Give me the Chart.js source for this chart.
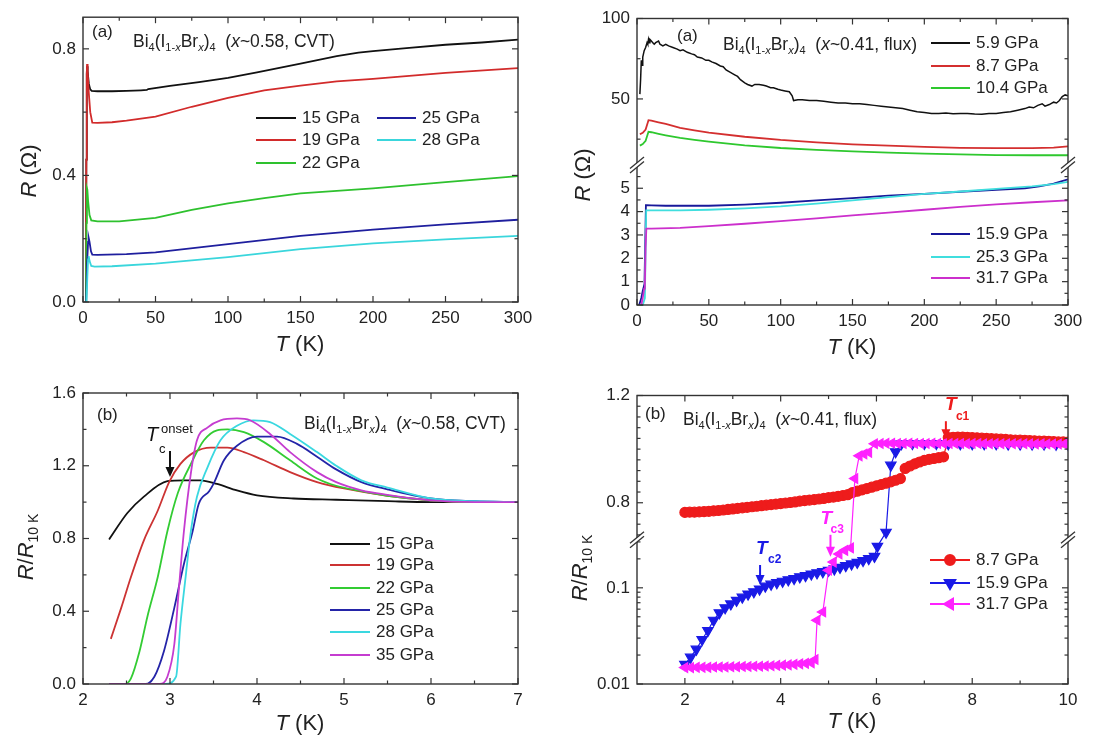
<!DOCTYPE html>
<html>
<head>
<meta charset="utf-8">
<script src="https://cdn.jsdelivr.net/npm/chart.js@4.4.1/dist/chart.umd.min.js"></script>
<style>
  html, body { margin: 0; padding: 0; background: #fff; }
  #fig { position: relative; width: 1108px; height: 744px; }
  canvas { position: absolute; }
</style>
</head>
<body>
<div id="fig">
  <canvas id="tl" width="554" height="372" style="left:0;top:0"></canvas>
  <canvas id="tr" width="554" height="372" style="left:554px;top:0"></canvas>
  <canvas id="bl" width="554" height="372" style="left:0;top:372px"></canvas>
  <canvas id="br" width="554" height="372" style="left:554px;top:372px"></canvas>
</div>
<script>
const FONT = "'Liberation Sans', Arial, sans-serif";
const INK = '#222';

// (a) left: x~0.58, CVT  R(T) 0-300 K
const tlNames = ['15 GPa', '19 GPa', '22 GPa', '25 GPa', '28 GPa'];
const tlT15 = [2.0, 2.3, 2.6, 2.8, 3.2, 4, 5, 6, 10, 20, 30, 40, 44, 45, 60, 80, 100, 120, 150, 175, 190, 200, 225, 250, 275, 300];
const tlR15 = [0, 0.45, 0.72, 0.745, 0.73, 0.69, 0.672, 0.667, 0.666, 0.666, 0.667, 0.669, 0.670, 0.673, 0.683, 0.695, 0.708, 0.726, 0.753, 0.777, 0.788, 0.793, 0.803, 0.813, 0.82, 0.829];
const tlT19 = [2.0, 2.3, 2.6, 2.8, 3.2, 4, 5, 6.4, 10, 20, 30, 50, 75, 100, 125, 150, 175, 200, 250, 300];
const tlR19 = [0, 0.45, 0.72, 0.752, 0.73, 0.66, 0.6, 0.567, 0.566, 0.568, 0.573, 0.586, 0.617, 0.645, 0.669, 0.684, 0.697, 0.705, 0.724, 0.739];
const tlT22 = [2.0, 2.4, 2.7, 3.0, 3.5, 4.5, 5.7, 10, 25, 50, 75, 100, 125, 150, 200, 250, 300];
const tlR22 = [0, 0.25, 0.36, 0.355, 0.32, 0.275, 0.258, 0.255, 0.255, 0.266, 0.291, 0.312, 0.328, 0.343, 0.359, 0.379, 0.398];
const tlT25 = [2.2, 2.8, 3.5, 3.9, 4.5, 5.5, 6.4, 10, 30, 50, 100, 150, 200, 250, 300];
const tlR25 = [0, 0.12, 0.19, 0.203, 0.19, 0.16, 0.15, 0.149, 0.151, 0.157, 0.183, 0.209, 0.229, 0.245, 0.26];
const tlT28 = [2.4, 3.0, 3.5, 3.9, 4.5, 5.7, 8, 20, 50, 100, 150, 200, 250, 300];
const tlR28 = [0, 0.08, 0.135, 0.145, 0.13, 0.114, 0.112, 0.113, 0.121, 0.142, 0.167, 0.185, 0.198, 0.209];

// (a) right: x~0.41, flux  R(T) with broken axis
const trNames = ['5.9 GPa', '8.7 GPa', '10.4 GPa', '15.9 GPa', '25.3 GPa', '31.7 GPa'];
const trT59 = [2, 2.5, 3, 3.5, 4, 5, 6, 7, 7.5, 8, 8.5, 9, 10, 11, 12, 13, 15, 16, 18, 20,
  22, 25, 28, 30, 32, 35, 38, 40, 42, 45, 48, 50, 52, 55, 58, 60, 62, 65, 68, 70,
  72, 75, 77, 80, 82, 85, 88, 90, 93, 95, 98, 100, 103, 106, 108, 109, 112, 115, 120, 125,
  130, 135, 140, 145, 150, 155, 160, 165, 170, 175, 180, 185, 190, 195, 200, 205, 210, 215, 220, 225,
  230, 235, 240, 245, 250, 255, 260, 265, 270, 273, 276, 279, 282, 284, 287, 290, 292, 294, 296, 298, 300];
const trR59 = [53, 62, 74, 71, 76, 80, 82, 85, 84, 87, 85, 87, 86, 85, 84, 85, 86, 84, 83, 84,
  83, 82, 81, 80, 80.5, 79, 78, 77.5, 76, 75.5, 74, 74, 73, 72, 70.5, 70, 68, 66.5, 65, 64,
  62, 60, 59, 58, 59, 59, 58.5, 58, 57, 57, 56, 55.5, 55, 54.5, 52, 49, 49.5, 49.5, 49, 49,
  48.5, 48, 47.5, 47.5, 47, 47, 46.5, 46, 45.5, 45, 44.5, 44, 43, 42, 41.5, 41, 41, 41.2, 40.8, 41,
  41, 40.7, 40.5, 41, 41, 41.5, 42, 43, 44, 45, 44.5, 46, 47, 45.5, 46.5, 48, 47.5, 49, 51.5, 52.5, 52];
const trT87 = [2, 4, 6, 8, 10, 15, 20, 30, 40, 50, 75, 100, 125, 150, 175, 200, 225, 250, 275, 290, 300];
const trR87 = [28, 29, 31, 36.8, 36.5, 35.5, 34.5, 32, 30.5, 29, 26.5, 24.5, 23, 21.8, 21, 20.2, 19.6, 19.4, 19.4, 19.8, 20.5];
const trT104 = [2, 4, 6, 8, 10, 15, 20, 30, 40, 50, 75, 100, 125, 150, 175, 200, 225, 250, 275, 300];
const trR104 = [21, 22, 24, 29.6, 29.3, 28.3, 27.4, 25.8, 24.6, 23.5, 21.2, 19.5, 18.3, 17.4, 16.6, 16, 15.5, 15.1, 15, 15];
const trT159 = [1.5, 3, 4, 5.2, 6.2, 6.6, 10, 20, 50, 75, 100, 125, 150, 175, 200, 225, 250, 270, 280, 290, 300];
const trR159 = [0, 0.3, 0.6, 0.9, 4.28, 4.28, 4.27, 4.25, 4.25, 4.3, 4.38, 4.48, 4.58, 4.68, 4.76, 4.85, 4.93, 5.0, 5.08, 5.2, 5.38];
const trT253 = [2, 4, 5.5, 6, 6.4, 10, 30, 50, 75, 100, 125, 150, 175, 200, 225, 250, 275, 290, 300];
const trR253 = [0, 0, 0.3, 2.5, 4.05, 4.05, 4.05, 4.08, 4.14, 4.22, 4.34, 4.48, 4.62, 4.76, 4.86, 4.97, 5.08, 5.18, 5.27];
const trT317 = [3, 4, 5, 5.5, 6, 6.5, 10, 30, 50, 75, 100, 125, 150, 175, 200, 225, 250, 275, 300];
const trR317 = [0, 0.3, 0.7, 0.9, 2.5, 3.27, 3.27, 3.3, 3.38, 3.48, 3.59, 3.71, 3.84, 3.96, 4.08, 4.2, 4.31, 4.4, 4.48];

// (b) left: R/R10K near Tc
const blNames = ['15 GPa', '19 GPa', '22 GPa', '25 GPa', '28 GPa', '35 GPa'];
const blT15 = [2.3, 2.51, 2.7, 2.97, 3.16, 3.35, 3.54, 3.77, 4.0, 4.42, 4.91, 5.5, 6, 6.5, 7];
const blR15 = [0.795, 0.94, 1.03, 1.115, 1.12, 1.12, 1.10, 1.064, 1.037, 1.02, 1.013, 1.005, 1.0, 1.0, 1.0];
const blT19 = [2.32, 2.44, 2.55, 2.70, 2.86, 2.99, 3.12, 3.28, 3.47, 3.66, 3.85, 4.08, 4.38, 4.69, 5.0, 5.5, 6.0, 6.5, 7];
const blR19 = [0.248, 0.42, 0.587, 0.79, 0.954, 1.11, 1.21, 1.275, 1.30, 1.30, 1.275, 1.23, 1.165, 1.11, 1.075, 1.035, 1.01, 1.0, 1.0];
const blT22 = [2.3, 2.48, 2.55, 2.65, 2.74, 2.86, 2.97, 3.09, 3.24, 3.39, 3.54, 3.66, 3.85, 4.08, 4.38, 4.69, 4.91, 5.2, 5.5, 6.0, 6.5, 7];
const blR22 = [0, 0, 0.03, 0.18, 0.37, 0.59, 0.84, 1.05, 1.21, 1.34, 1.395, 1.40, 1.385, 1.33, 1.23, 1.13, 1.09, 1.06, 1.035, 1.01, 1.0, 1.0];
const blT25 = [2.3, 2.72, 2.82, 2.93, 3.05, 3.16, 3.26, 3.33, 3.45, 3.50, 3.62, 3.77, 4.0, 4.23, 4.46, 4.69, 4.91, 5.2, 5.5, 6.0, 6.5, 7];
const blR25 = [0, 0, 0.04, 0.18, 0.42, 0.66, 0.84, 0.99, 1.06, 1.10, 1.23, 1.31, 1.36, 1.36, 1.32, 1.25, 1.18, 1.11, 1.07, 1.02, 1.005, 1.0];
const blT28 = [2.3, 2.95, 3.07, 3.12, 3.18, 3.24, 3.31, 3.43, 3.58, 3.77, 3.96, 4.15, 4.38, 4.69, 4.91, 5.2, 5.5, 6.0, 6.5, 7];
const blR28 = [0, 0, 0.04, 0.33, 0.59, 0.84, 1.03, 1.19, 1.34, 1.42, 1.45, 1.44, 1.375, 1.275, 1.20, 1.12, 1.08, 1.02, 1.005, 1.0];
const blT35 = [2.3, 2.88, 2.97, 3.05, 3.10, 3.16, 3.24, 3.31, 3.43, 3.58, 3.77, 3.92, 4.15, 4.38, 4.69, 4.91, 5.2, 5.5, 6.0, 6.5, 7];
const blR35 = [0, 0, 0.04, 0.22, 0.51, 0.84, 1.16, 1.34, 1.41, 1.45, 1.46, 1.45, 1.375, 1.275, 1.165, 1.11, 1.065, 1.04, 1.01, 1.0, 1.0];

// (b) right: symbols, broken axis (log below, linear above)
const brNames = ['8.7 GPa', '15.9 GPa', '31.7 GPa'];
const brT87 = [2.0, 2.1, 2.2, 2.3, 2.4, 2.5, 2.6, 2.7, 2.8, 2.9, 3.0, 3.1, 3.2, 3.3, 3.4, 3.5, 3.6, 3.7, 3.8, 3.9,
  4.0, 4.1, 4.2, 4.3, 4.4, 4.5, 4.6, 4.7, 4.8, 4.9, 5.0, 5.1, 5.2, 5.3, 5.4, 5.5, 5.6, 5.7, 5.8, 5.9,
  6.0, 6.1, 6.2, 6.3, 6.4, 6.5, 6.6, 6.7, 6.8, 6.9, 7.0, 7.1, 7.2, 7.3, 7.4, 7.5, 7.6, 7.7, 7.8, 7.9,
  8.0, 8.1, 8.2, 8.3, 8.4, 8.5, 8.6, 8.7, 8.8, 8.9, 9.0, 9.1, 9.2, 9.3, 9.4, 9.5, 9.6, 9.7, 9.8, 9.9, 10.0];
const brR87 = [0.764, 0.765, 0.765, 0.766, 0.767, 0.768, 0.770, 0.771, 0.773, 0.775, 0.777, 0.779, 0.781, 0.783, 0.785, 0.787, 0.789, 0.791, 0.793, 0.795,
  0.797, 0.799, 0.801, 0.803, 0.806, 0.808, 0.810, 0.812, 0.814, 0.816, 0.819, 0.821, 0.824, 0.827, 0.830, 0.838, 0.843, 0.848, 0.853, 0.858,
  0.863, 0.868, 0.873, 0.878, 0.884, 0.890, 0.928, 0.937, 0.945, 0.952, 0.958, 0.962, 0.965, 0.968, 0.971, 1.043, 1.044, 1.045, 1.045, 1.044,
  1.043, 1.042, 1.041, 1.040, 1.039, 1.038, 1.037, 1.036, 1.035, 1.034, 1.034, 1.033, 1.032, 1.031, 1.030, 1.030, 1.029, 1.028, 1.027, 1.027, 1.026];
const brT159 = [2.00, 2.12, 2.24, 2.36, 2.48, 2.60, 2.72, 2.84, 2.96, 3.08, 3.20, 3.32, 3.44, 3.56, 3.68, 3.80, 3.92, 4.04, 4.16, 4.28,
  4.40, 4.52, 4.64, 4.76, 4.88, 5.00, 5.12, 5.24, 5.36, 5.48, 5.60, 5.72, 5.84, 5.96, 6.02, 6.20, 6.30, 6.40, 6.52,
  6.75, 7.00, 7.25, 7.50, 7.75, 8.00, 8.25, 8.50, 8.75, 9.00, 9.25, 9.50, 9.75, 10.0];
const brR159 = [0.016, 0.019, 0.023, 0.029, 0.036, 0.046, 0.055, 0.062, 0.068, 0.074, 0.080, 0.086, 0.091, 0.097, 0.104, 0.109, 0.113, 0.117, 0.121, 0.125,
  0.130, 0.134, 0.139, 0.143, 0.147, 0.152, 0.157, 0.163, 0.170, 0.177, 0.184, 0.192, 0.201, 0.212, 0.27, 0.69, 0.94, 0.99, 1.02,
  1.021, 1.021, 1.021, 1.02, 1.02, 1.02, 1.02, 1.02, 1.019, 1.019, 1.019, 1.019, 1.018, 1.018];
const brT317 = [2.00, 2.12, 2.24, 2.36, 2.48, 2.60, 2.72, 2.84, 2.96, 3.08, 3.20, 3.32, 3.44, 3.56, 3.68, 3.80, 3.92, 4.04, 4.16, 4.28,
  4.40, 4.52, 4.64, 4.72, 4.76, 4.88, 5.00, 5.10, 5.22, 5.34, 5.46, 5.55, 5.64, 5.74, 5.84, 5.96,
  6.08, 6.20, 6.32, 6.44, 6.56, 6.68, 6.80, 6.92, 7.04, 7.16, 7.28, 7.40, 7.52, 7.64, 7.76, 7.88, 8.00,
  8.12, 8.24, 8.36, 8.48, 8.60, 8.72, 8.84, 8.96, 9.08, 9.20, 9.32, 9.44, 9.56, 9.68, 9.80, 9.92, 10.0];
const brR317 = [0.0148, 0.0148, 0.0149, 0.0149, 0.0149, 0.0150, 0.0150, 0.0150, 0.0151, 0.0151, 0.0152, 0.0152, 0.0153, 0.0153, 0.0154, 0.0155, 0.0156, 0.0157, 0.0158, 0.0160,
  0.0162, 0.0164, 0.0166, 0.018, 0.046, 0.056, 0.152, 0.185, 0.225, 0.245, 0.26, 0.89, 0.975, 0.982, 0.988, 1.02,
  1.021, 1.022, 1.022, 1.021, 1.021, 1.022, 1.021, 1.021, 1.021, 1.022, 1.021, 1.021, 1.021, 1.021, 1.021, 1.020, 1.021,
  1.021, 1.020, 1.020, 1.021, 1.020, 1.020, 1.020, 1.020, 1.020, 1.020, 1.019, 1.020, 1.019, 1.019, 1.019, 1.019, 1.019];

// tick values
const xTicks300 = [0, 50, 100, 150, 200, 250, 300];
const xMinor300 = [25, 75, 125, 175, 225, 275];
const tlYTicks = [0, 0.4, 0.8];
const tlYMinor = [0.2, 0.6];
const trYTicks = [0, 1, 2, 3, 4, 5, 50, 100];
const trYMinor = [0.5, 1.5, 2.5, 3.5, 4.5, 5.5, 25, 75];
const blXTicks = [2, 3, 4, 5, 6, 7];
const blXMinor = [2.5, 3.5, 4.5, 5.5, 6.5];
const blYTicks = [0, 0.4, 0.8, 1.2, 1.6];
const blYMinor = [0.2, 0.6, 1.0, 1.4];
const brXTicks = [2, 4, 6, 8, 10];
const brXMinor = [3, 5, 7, 9];
const brYTicks = [0.01, 0.1, 0.8, 1.2];
const brYMinor = [0.02, 0.03, 0.04, 0.05, 0.06, 0.07, 0.08, 0.09, 0.2, 0.3,
  0.68, 0.72, 0.76, 0.84, 0.88, 0.92, 0.96, 1.0, 1.04, 1.08, 1.12, 1.16];

// broken y axes: segments as fraction of the plot height
const BREAKS = {
  tr: [{ min: 0, max: 6, f0: 0, f1: 0.489 }, { min: 9, max: 100, f0: 0.489, f1: 1 }],
  br: [{ min: 0.01, max: 0.316, f0: 0, f1: 0.5, log: true }, { min: 0.662, max: 1.2, f0: 0.5, f1: 1 }]
};

class BrokenScale extends Chart.LinearScale {
  segs() { return BREAKS[this.chart.canvas.id]; }
  determineDataLimits() {
    const s = this.segs();
    this.min = s[0].min;
    this.max = s[s.length - 1].max;
  }
  buildTicks() { return []; }
  pick(v) {
    const s = this.segs();
    return v <= (s[0].max + s[1].min) / 2 ? s[0] : s[1];
  }
  getPixelForValue(v) {
    if (v === null || isNaN(v)) return NaN;
    const g = this.pick(v);
    const t = g.log
      ? Math.log10(v / g.min) / Math.log10(g.max / g.min)
      : (v - g.min) / (g.max - g.min);
    const f = g.f0 + t * (g.f1 - g.f0);
    return this.bottom - f * (this.bottom - this.top);
  }
  getValueForPixel(px) {
    const f = (this.bottom - px) / (this.bottom - this.top);
    const g = this.segs().find(s => f <= s.f1) || this.segs()[1];
    const t = (f - g.f0) / (g.f1 - g.f0);
    return g.log ? g.min * Math.pow(g.max / g.min, t) : g.min + t * (g.max - g.min);
  }
}
BrokenScale.id = 'broken';
BrokenScale.defaults = {};
Chart.register(BrokenScale);

function pts(T, R) { return T.map((t, i) => ({ x: t, y: R[i] })); }

function line(ctx, x1, y1, x2, y2) {
  ctx.beginPath(); ctx.moveTo(x1, y1); ctx.lineTo(x2, y2); ctx.stroke();
}

// text with italic / sub / sup pieces: flags i=italic b=bold d=sub u=sup
function rich(ctx, parts, x, y, size, color, align) {
  const font = (f, s) => (f.includes('i') ? 'italic ' : '') + (f.includes('b') ? 'bold ' : '') + s + 'px ' + FONT;
  const items = parts.map(([t, f = '']) => {
    const s = (f.includes('d') || f.includes('u')) ? Math.round(size * 0.64) : size;
    ctx.font = font(f, s);
    return { t, f, s, w: ctx.measureText(t).width };
  });
  const total = items.reduce((n, it) => n + it.w, 0);
  let cx = align === 'center' ? x - total / 2 : x;
  ctx.fillStyle = color;
  ctx.textBaseline = 'middle';
  ctx.textAlign = 'left';
  items.forEach(it => {
    ctx.font = font(it.f, it.s);
    const dy = it.f.includes('d') ? size * 0.33 : it.f.includes('u') ? -size * 0.38 : 0;
    ctx.fillText(it.t, cx, y + dy);
    cx += it.w;
  });
}

function arrow(ctx, x, yTail, yTip, color) {
  ctx.strokeStyle = color; ctx.fillStyle = color; ctx.lineWidth = 2;
  line(ctx, x, yTail, x, yTip - 8);
  ctx.beginPath();
  ctx.moveTo(x - 4.5, yTip - 10); ctx.lineTo(x + 4.5, yTip - 10); ctx.lineTo(x, yTip);
  ctx.closePath(); ctx.fill();
}

function breakMark(ctx, x, y) {
  ctx.fillStyle = '#fff';
  ctx.beginPath();
  ctx.moveTo(x - 6, y + 3); ctx.lineTo(x + 6, y - 7); ctx.lineTo(x + 6, y - 3); ctx.lineTo(x - 6, y + 7);
  ctx.closePath(); ctx.fill();
  ctx.strokeStyle = '#333'; ctx.lineWidth = 1.3;
  line(ctx, x - 7, y + 3.5, x + 7, y - 8);
  line(ctx, x - 7, y + 8, x + 7, y - 3.5);
}

const titleA = (x) => [['Bi'], ['4', 'd'], ['(I'], ['1-', 'd'], ['x', 'di'], ['Br'], ['x', 'di'], [')'], ['4', 'd'], ['  ('], ['x', 'i'], [x]];

const PANELS = {
  tl: {
    area: { left: 83, right: 518, top: 12, bottom: 302 },
    xMin: 0, xMax: 300, yMin: 0, yMax: 0.9,
    xMajor: xTicks300, xMinor: xMinor300, yMajor: tlYTicks, yMinor: tlYMinor,
    fmtY: v => v.toFixed(1),
    tag: { t: '(a)', x: 92, y: 32 },
    title: { parts: titleA('~0.58, CVT)'), x: 133, y: 42 },
    xTitle: { x: 300, y: 345 },
    yTitle: { parts: [['R', 'i'], [' (Ω)']], x: 30, y: 171 },
    legend: [
      { label: tlNames[0], color: '#111', x1: 256, x2: 296, y: 118 },
      { label: tlNames[1], color: '#d22b2b', x1: 256, x2: 296, y: 140 },
      { label: tlNames[2], color: '#2ec12e', x1: 256, x2: 296, y: 163 },
      { label: tlNames[3], color: '#1f1f9e', x1: 377, x2: 416, y: 118 },
      { label: tlNames[4], color: '#3ad6dc', x1: 377, x2: 416, y: 140 }
    ]
  },
  tr: {
    area: { left: 83, right: 514, top: 18.5, bottom: 305 },
    xMin: 0, xMax: 300, broken: true,
    xMajor: xTicks300, xMinor: xMinor300, yMajor: trYTicks, yMinor: trYMinor,
    fmtY: v => String(v),
    tag: { t: '(a)', x: 123, y: 36 },
    title: { parts: titleA('~0.41, flux)'), x: 169, y: 45 },
    xTitle: { x: 298, y: 348 },
    yTitle: { parts: [['R', 'i'], [' (Ω)']], x: 30, y: 175 },
    legend: [
      { label: trNames[0], color: '#111', x1: 377, x2: 416, y: 43 },
      { label: trNames[1], color: '#d42f2f', x1: 377, x2: 416, y: 66 },
      { label: trNames[2], color: '#2ec82e', x1: 377, x2: 416, y: 88 },
      { label: trNames[3], color: '#18189a', x1: 377, x2: 416, y: 234 },
      { label: trNames[4], color: '#40dede', x1: 377, x2: 416, y: 257 },
      { label: trNames[5], color: '#cc2fcc', x1: 377, x2: 416, y: 278 }
    ]
  },
  bl: {
    area: { left: 83, right: 518, top: 21, bottom: 312 },
    xMin: 2, xMax: 7, yMin: 0, yMax: 1.6,
    xMajor: blXTicks, xMinor: blXMinor, yMajor: blYTicks, yMinor: blYMinor,
    fmtY: v => v.toFixed(1),
    tag: { t: '(b)', x: 97, y: 43 },
    title: { parts: titleA('~0.58, CVT)'), x: 304, y: 52 },
    xTitle: { x: 300, y: 352 },
    yTitle: { parts: [['R', 'i'], ['/'], ['R', 'i'], ['10 K', 'd']], x: 27, y: 175 },
    legend: blNames.map((n, i) => ({
      label: n, color: ['#111', '#cc3333', '#33cc33', '#2424a8', '#3ad8e0', '#c53cd0'][i],
      x1: 330, x2: 370, y: [172, 193, 216, 238, 260, 283][i]
    })),
    extra(ctx, xs, ys) {
      const x = xs.getPixelForValue(3.0), tip = ys.getPixelForValue(1.138);
      arrow(ctx, x, tip - 26, tip, '#111');
      rich(ctx, [['T', 'i']], x - 24, tip - 42, 20, '#111', 'left');
      rich(ctx, [['c']], x - 11, tip - 28, 13, '#111', 'left');
      rich(ctx, [['onset']], x - 9, tip - 48, 13, '#111', 'left');
    }
  },
  br: {
    area: { left: 83, right: 514, top: 23.5, bottom: 312 },
    xMin: 1, xMax: 10, broken: true,
    xMajor: brXTicks, xMinor: brXMinor, yMajor: brYTicks, yMinor: brYMinor,
    fmtY: v => String(v),
    tag: { t: '(b)', x: 91, y: 42 },
    title: { parts: titleA('~0.41, flux)'), x: 129, y: 48 },
    xTitle: { x: 298, y: 350 },
    yTitle: { parts: [['R', 'i'], ['/'], ['R', 'i'], ['10 K', 'd']], x: 27, y: 196 },
    legend: [
      { label: brNames[0], color: '#ee1c1c', x1: 376, x2: 416, y: 188, marker: { pointStyle: 'circle', radius: 5, rotation: 0, borderWidth: 1 } },
      { label: brNames[1], color: '#1a1ae6', x1: 376, x2: 416, y: 211, marker: { pointStyle: 'triangle', radius: 6, rotation: 180, borderWidth: 1 } },
      { label: brNames[2], color: '#ff22ff', x1: 376, x2: 416, y: 232, marker: { pointStyle: 'triangle', radius: 6, rotation: -90, borderWidth: 1 } }
    ],
    extra(ctx, xs, ys) {
      const marks = [
        { t: 7.45, v: 1.037, len: 18, c: '#ee1c1c', sub: 'c1', dx: -1, sdx: 10 },
        { t: 3.57, v: 0.107, len: 20, c: '#1a1ae6', sub: 'c2', dx: -4, sdx: 8 },
        { t: 5.04, v: 0.21, len: 22, c: '#ff22ff', sub: 'c3', dx: -10, sdx: 0 }
      ];
      marks.forEach(m => {
        const x = xs.getPixelForValue(m.t), tip = ys.getPixelForValue(m.v);
        arrow(ctx, x, tip - m.len, tip, m.c);
        rich(ctx, [['T', 'bi']], x + m.dx, tip - m.len - 16, 19, m.c, 'left');
        rich(ctx, [[m.sub, 'b']], x + m.sdx, tip - m.len - 5, 12, m.c, 'left');
      });
    }
  }
};

const decor = {
  id: 'decor',
  afterDraw(chart) {
    const p = PANELS[chart.canvas.id];
    const ctx = chart.ctx, a = chart.chartArea;
    const xs = chart.scales.x, ys = chart.scales.y;
    ctx.save();
    // inward ticks on all four sides
    ctx.strokeStyle = '#333'; ctx.lineWidth = 1.2;
    const xt = (v, n) => { const x = xs.getPixelForValue(v); line(ctx, x, a.bottom, x, a.bottom - n); line(ctx, x, a.top, x, a.top + n); };
    const yt = (v, n) => { const y = ys.getPixelForValue(v); line(ctx, a.left, y, a.left + n, y); line(ctx, a.right, y, a.right - n, y); };
    p.xMajor.forEach(v => xt(v, 6)); p.xMinor.forEach(v => xt(v, 3.5));
    p.yMajor.forEach(v => yt(v, 6)); p.yMinor.forEach(v => yt(v, 3.5));
    ctx.lineWidth = 1.4;
    ctx.strokeRect(a.left, a.top, a.right - a.left, a.bottom - a.top);
    if (p.broken) {
      const yb = a.bottom - BREAKS[chart.canvas.id][0].f1 * (a.bottom - a.top);
      breakMark(ctx, a.left, yb);
      breakMark(ctx, a.right, yb);
    }
    rich(ctx, [[p.tag.t]], p.tag.x, p.tag.y, 17, INK, 'left');
    rich(ctx, p.title.parts, p.title.x, p.title.y, 17.5, INK, 'left');
    rich(ctx, [['T', 'i'], [' (K)']], p.xTitle.x, p.xTitle.y, 22, INK, 'center');
    ctx.save();
    ctx.translate(p.yTitle.x, p.yTitle.y);
    ctx.rotate(-Math.PI / 2);
    rich(ctx, p.yTitle.parts, 0, 0, 22, INK, 'center');
    ctx.restore();
    p.legend.forEach(e => {
      ctx.strokeStyle = e.color; ctx.lineWidth = 2;
      line(ctx, e.x1, e.y, e.x2, e.y);
      if (e.marker) {
        ctx.fillStyle = e.color;
        Chart.helpers.drawPoint(ctx, e.marker, (e.x1 + e.x2) / 2, e.y);
      }
      rich(ctx, [[e.label]], e.x2 + 6, e.y, 17, INK, 'left');
    });
    if (p.extra) p.extra(ctx, xs, ys);
    ctx.restore();
  }
};
Chart.register(decor);

function makeChart(id, datasets, lineOpts) {
  const p = PANELS[id];
  const cv = document.getElementById(id);
  const tickFont = { family: FONT, size: 17 };
  return new Chart(cv, {
    type: 'line',
    data: { datasets },
    options: {
      responsive: false,
      animation: false,
      events: [],
      layout: { padding: { left: 0, top: p.area.top, right: cv.width - p.area.right, bottom: 0 } },
      plugins: { legend: { display: false }, tooltip: { enabled: false } },
      elements: { point: { radius: 0 }, line: lineOpts },
      scales: {
        x: {
          type: 'linear', min: p.xMin, max: p.xMax,
          afterFit: s => { s.height = cv.height - p.area.bottom; },
          afterBuildTicks: s => { s.ticks = p.xMajor.map(v => ({ value: v })); },
          grid: { display: false, drawTicks: false }, border: { display: false },
          ticks: { autoSkip: false, maxRotation: 0, padding: 6, color: INK, font: tickFont }
        },
        y: {
          type: p.broken ? 'broken' : 'linear', min: p.yMin, max: p.yMax,
          afterFit: s => { s.width = p.area.left; },
          afterBuildTicks: s => { s.ticks = p.yMajor.map(v => ({ value: v })); },
          grid: { display: false, drawTicks: false }, border: { display: false },
          ticks: { autoSkip: false, padding: 7, color: INK, font: tickFont, callback: p.fmtY }
        }
      }
    }
  });
}

const ds = (T, R, color, extra) => Object.assign({ data: pts(T, R), borderColor: color, backgroundColor: color }, extra || {});

makeChart('tl', [
  ds(tlT28, tlR28, '#3ad6dc'),
  ds(tlT25, tlR25, '#1f1f9e'),
  ds(tlT22, tlR22, '#2ec12e'),
  ds(tlT19, tlR19, '#d22b2b'),
  ds(tlT15, tlR15, '#111')
], { borderWidth: 1.8, tension: 0 });

makeChart('tr', [
  ds(trT59, trR59, '#111', { borderWidth: 1.5 }),
  ds(trT87, trR87, '#d42f2f'),
  ds(trT104, trR104, '#2ec82e'),
  ds(trT317, trR317, '#cc2fcc'),
  ds(trT253, trR253, '#40dede'),
  ds(trT159, trR159, '#18189a')
], { borderWidth: 1.8, tension: 0 });

makeChart('bl', [
  ds(blT35, blR35, '#c53cd0'),
  ds(blT28, blR28, '#3ad8e0'),
  ds(blT25, blR25, '#2424a8'),
  ds(blT22, blR22, '#33cc33'),
  ds(blT19, blR19, '#cc3333'),
  ds(blT15, blR15, '#111')
], { borderWidth: 1.8, cubicInterpolationMode: 'monotone' });

makeChart('br', [
  ds(brT317, brR317, '#ff22ff', { pointStyle: 'triangle', pointRotation: -90, pointRadius: 5.5, borderWidth: 1.2 }),
  ds(brT87, brR87, '#ee1c1c', { pointStyle: 'circle', pointRadius: 5, borderWidth: 1.2 }),
  ds(brT159, brR159, '#1a1ae6', { pointStyle: 'triangle', pointRotation: 180, pointRadius: 6, borderWidth: 1.2 })
], { borderWidth: 1.2, tension: 0 });
</script>
</body>
</html>
